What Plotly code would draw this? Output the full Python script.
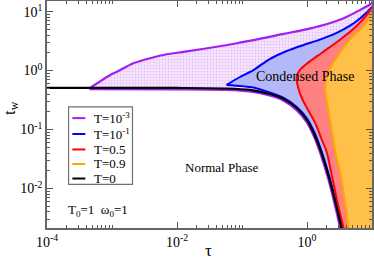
import plotly.graph_objects as go

# ---------------- data ----------------
# T = 0 boundary
tau_black = [1e-4, 9.75e-3, 0.058, 0.132, 0.267, 0.439, 0.695, 1.0, 1.27, 1.61, 2.15, 2.73, 3.40, 3.53]
tw_black = [0.51, 0.507, 0.497, 0.469, 0.401, 0.330, 0.232, 0.145, 0.0873, 0.0450, 0.0163, 0.00588, 0.00208, 0.0016]

# T = 1e-3 (upper and lower boundaries)
tau_p_up = [4.5e-4, 9.4e-4, 1.19e-3, 2.13e-3, 3.85e-3, 6.95e-3, 0.0133, 0.0834, 0.439, 0.889, 1.80, 3.66, 6.60, 9.6, 10.8]
tw_p_up = [0.50, 0.841, 0.957, 1.33, 1.62, 1.89, 2.09, 2.91, 4.18, 4.89, 5.94, 7.73, 10.7, 13.5, 16.0]
tau_p_lo = [4.5e-4, 9.75e-3, 0.058, 0.132, 0.267, 0.439, 0.695, 1.0, 1.27, 1.61, 2.15, 2.73, 3.40, 3.60]
tw_p_lo = [0.49, 0.485, 0.475, 0.445, 0.38, 0.31, 0.215, 0.133, 0.079, 0.040, 0.0143, 0.0050, 0.0017, 0.0012]

# T = 1e-1
tau_b_up = [0.058, 0.0927, 0.150, 0.267, 0.488, 0.889, 1.58, 2.86, 4.52, 6.60, 9.6, 11.4]
tw_b_up = [0.570, 0.778, 1.02, 1.57, 2.15, 2.72, 3.35, 4.35, 5.71, 7.73, 11.4, 14.0]
tau_b_lo = [0.058, 0.150, 0.267, 0.439, 0.695, 1.0, 1.27, 1.61, 2.15, 2.73, 3.40, 3.60]
tw_b_lo = [0.570, 0.516, 0.425, 0.343, 0.241, 0.154, 0.0944, 0.0485, 0.0176, 0.00636, 0.00221, 0.0015]

# T = 0.5
tau_red = [11.0, 9.84, 8.55, 5.59, 3.18, 1.68, 1.03, 0.773, 0.695, 0.733, 0.859, 1.06, 1.36, 1.65, 2.01, 2.44, 2.96, 3.66, 3.79]
tw_red = [13.0, 11.6, 9.14, 5.50, 3.31, 1.99, 1.35, 1.02, 0.778, 0.507, 0.317, 0.206, 0.124, 0.0717, 0.0415, 0.0156, 0.00565, 0.00208, 0.00162]

# T = 0.9
tau_or = [11.0, 9.84, 7.16, 4.52, 3.18, 2.31, 2.01, 1.90, 2.01, 2.23, 2.53, 2.86, 3.35, 3.86, 4.37, 4.52]
tw_or = [11.0, 9.14, 5.50, 3.31, 1.99, 1.15, 0.748, 0.507, 0.305, 0.157, 0.0664, 0.0328, 0.0156, 0.00565, 0.00208, 0.00162]

# closing corners of the regions (outside the visible window)
TAU_FAR = 40.0
TW_TOP = 30.0
TW_BOT = 0.0008

legend_names = ["T=10<sup>-3</sup>", "T=10<sup>-1</sup>", "T=0.5", "T=0.9", "T=0"]
legend_colors = ["#a020f0", "#0000ff", "#ff0000", "#ffa500", "#000000"]

x_major = [1e-4, 1e-2, 1.0]
x_major_text = ["10<sup>-4</sup>", "10<sup>-2</sup>", "10<sup>0</sup>"]
y_major = [1e-2, 1e-1, 1.0, 10.0]
y_major_text = ["10<sup>-2</sup>", "10<sup>-1</sup>", "10<sup>0</sup>", "10<sup>1</sup>"]
x_minor = [2e-4, 3e-4, 4e-4, 5e-4, 6e-4, 7e-4, 8e-4, 9e-4, 1e-3,
           2e-2, 3e-2, 4e-2, 5e-2, 6e-2, 7e-2, 8e-2, 9e-2, 1e-1,
           2, 3, 4, 5, 6, 7, 8, 9]
y_minor = [3e-3, 4e-3, 5e-3, 6e-3, 7e-3, 8e-3, 9e-3,
           2e-2, 3e-2, 4e-2, 5e-2, 6e-2, 7e-2, 8e-2, 9e-2,
           0.2, 0.3, 0.4, 0.5, 0.6, 0.7, 0.8, 0.9,
           2, 3, 4, 5, 6, 7, 8, 9]

FONT = "Liberation Serif"
SM = 0.7
GRID = "rgba(255,255,255,0.6)"

fig = go.Figure()

# ---------------- filled regions ----------------
fig.add_trace(go.Scatter(
    x=tau_p_up + [TAU_FAR, TAU_FAR] + tau_p_lo[::-1],
    y=tw_p_up + [TW_TOP, TW_BOT] + tw_p_lo[::-1],
    mode="lines", fill="toself", line=dict(width=0, shape="spline", smoothing=SM),
    fillcolor="#f2dcfa",
    fillpattern=dict(shape=".", fgcolor="#d49af5", bgcolor="#f5e6fc", size=3, solidity=0.3),
    hoverinfo="skip", showlegend=False))
fig.add_trace(go.Scatter(
    x=tau_b_up + [TAU_FAR, TAU_FAR] + tau_b_lo[::-1],
    y=tw_b_up + [TW_TOP, TW_BOT] + tw_b_lo[::-1],
    mode="lines", fill="toself", line=dict(width=0, shape="spline", smoothing=SM),
    fillcolor="#b4b8f6", hoverinfo="skip", showlegend=False))
fig.add_trace(go.Scatter(
    x=tau_red + [TAU_FAR, TAU_FAR],
    y=tw_red + [TW_BOT, TW_TOP],
    mode="lines", fill="toself", line=dict(width=0, shape="spline", smoothing=SM),
    fillcolor="#ff8080", hoverinfo="skip", showlegend=False))
fig.add_trace(go.Scatter(
    x=tau_or + [TAU_FAR, TAU_FAR],
    y=tw_or + [TW_BOT, TW_TOP],
    mode="lines", fill="toself", line=dict(width=0, shape="spline", smoothing=SM),
    fillcolor="#ffc04a", hoverinfo="skip", showlegend=False))

# ---------------- boundary lines ----------------
def line(x, y, color, width, name):
    fig.add_trace(go.Scatter(x=x, y=y, mode="lines", name=name,
                             line=dict(color=color, width=width, shape="spline", smoothing=SM),
                             showlegend=False))

line(tau_p_up, tw_p_up, legend_colors[0], 2.2, "T=1e-3")
line(tau_p_lo, tw_p_lo, legend_colors[0], 2.6, "T=1e-3")
line(tau_b_up, tw_b_up, legend_colors[1], 2.0, "T=1e-1")
line(tau_b_lo, tw_b_lo, legend_colors[1], 2.0, "T=1e-1")
line(tau_red, tw_red, legend_colors[2], 2.0, "T=0.5")
line(tau_or, tw_or, legend_colors[3], 2.0, "T=0.9")
line(tau_black, tw_black, legend_colors[4], 2.2, "T=0")

# ---------------- manual legend (paper coordinates) ----------------
shapes = [dict(type="rect", xref="paper", yref="paper", x0=0.0664, x1=0.263, y0=0.1925, y1=0.534,
               line=dict(color="#707070", width=1.2), fillcolor="white", layer="above")]
annotations = []
entry_y = [0.484, 0.414, 0.346, 0.282, 0.218]
for name, col, yy in zip(legend_names, legend_colors, entry_y):
    shapes.append(dict(type="line", xref="paper", yref="paper", x0=0.078, x1=0.118, y0=yy, y1=yy,
                       line=dict(color=col, width=2), layer="above"))
    annotations.append(dict(xref="paper", yref="paper", x=0.137, y=yy, text=name, showarrow=False,
                            xanchor="left", yanchor="middle", font=dict(family=FONT, size=13, color="black")))

def label(x, y, text, size, angle=0):
    annotations.append(dict(xref="paper", yref="paper", x=x, y=y, text=text, showarrow=False,
                            xanchor="center", yanchor="middle", textangle=angle,
                            font=dict(family=FONT, size=size, color="black")))

label(0.794, 0.666, "Condensed Phase", 14)
label(0.539, 0.268, "Normal Phase", 13)
label(0.156, 0.075, "T<sub>0</sub>=1  \u03c9<sub>0</sub>=1", 13)
label(0.498, -0.098, "\u03c4", 17)
label(-0.113, 0.53, "t<sub>w</sub>", 17, -90)

axis_common = dict(
    type="log", showline=True, linecolor="#666666", linewidth=1.5, mirror="allticks",
    ticks="inside", ticklen=6, tickwidth=1, tickcolor="#555555",
    tickfont=dict(family=FONT, size=14, color="black"),
    tickmode="array", showgrid=True, gridcolor=GRID, gridwidth=1,
    zeroline=False, layer="above traces", automargin=False,
)

fig.update_xaxes(**axis_common, range=[-4, 1.0], tickvals=x_major, ticktext=x_major_text,
                 minor=dict(tickmode="array", tickvals=x_minor, ticks="inside", ticklen=3,
                            tickcolor="#555555", showgrid=True, gridcolor=GRID))
fig.update_yaxes(**axis_common, range=[-2.67, 1.18], tickvals=y_major, ticktext=y_major_text,
                 minor=dict(tickmode="array", tickvals=y_minor, ticks="inside", ticklen=3,
                            tickcolor="#555555", showgrid=True, gridcolor=GRID))

fig.update_layout(
    width=374, height=261,
    margin=dict(l=47, r=2, t=1, b=33),
    paper_bgcolor="white", plot_bgcolor="white",
    shapes=shapes, annotations=annotations, showlegend=False,
    font=dict(family=FONT, color="black"),
)

fig.write_html("out.html", config={"displayModeBar": False},
               post_script="document.body.style.margin='0';document.body.style.padding='0';")
